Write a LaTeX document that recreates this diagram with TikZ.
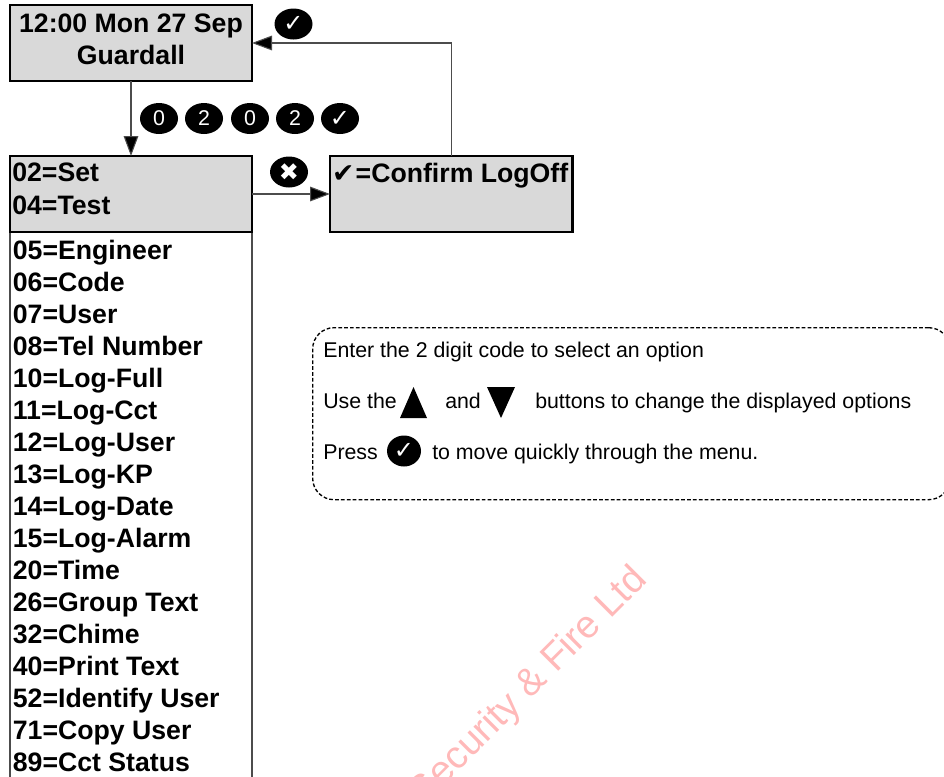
\documentclass[tikz,border=0pt]{standalone}
\usepackage{fontspec}
\setmainfont{Liberation Sans}
\newfontfamily\symfont{DejaVu Sans}
\usetikzlibrary{arrows.meta,calc,shapes.geometric}
\tikzset{
  screen/.style={draw=black,line width=2pt,fill=screengrey,inner sep=0pt,outer sep=0pt,rectangle},
  menulist/.style={draw=black!70,line width=0.8pt,fill=white,inner sep=0pt,outer sep=0pt,rectangle},
  flow/.style={draw=black!70,line width=0.8pt,-{Triangle[length=15pt,width=11pt,fill=black]}},
  keycap/.style={ellipse,fill=black,text=white,minimum width=28.5pt,minimum height=23.25pt,inner sep=0pt,font=\fontsize{16}{16}\selectfont},
  keysym/.style={keycap,font=\symfont\fontsize{18}{18}\selectfont},
  notebox/.style={draw=black,line width=1pt,dashed,dash pattern=on 2.8pt off 1.6pt,rounded corners=16pt,inner sep=0pt,rectangle},
  notetext/.style={anchor=base west,inner sep=0pt,font=\fontsize{16}{16}\selectfont},
  watermark/.style={text=wmred,font=\fontsize{29}{29}\selectfont,rotate=45,inner sep=0pt},
}
\definecolor{screengrey}{HTML}{D9D9D9}
\definecolor{wmred}{HTML}{FFB9B9}
\newcommand{\screentext}[4]{\parbox[c][#1][t]{#2}{\fontsize{20}{#3}\selectfont\bfseries #4}}
\begin{document}
\begin{tikzpicture}[x=0.75pt,y=-0.75pt]
\useasboundingbox (0,0) rectangle (944,776);
\clip (0,0) rectangle (944,776);

\node[watermark,anchor=base east] (wm) at (649,581) {Security \& Fire Ltd};

\node[menulist,anchor=north west,minimum width=181.5pt,minimum height=450pt] (list) at (10,232)
 {\parbox[c][450pt][t]{178pt}{\fontsize{20}{24}\selectfont\bfseries\vspace*{6pt}%
 \hspace*{0.4pt}05=Engineer\\ \hspace*{0.4pt}06=Code\\ \hspace*{0.4pt}07=User\\ \hspace*{0.4pt}08=Tel Number\\
 \hspace*{0.4pt}10=Log-Full\\ \hspace*{0.4pt}11=Log-Cct\\ \hspace*{0.4pt}12=Log-User\\ \hspace*{0.4pt}13=Log-KP\\
 \hspace*{0.4pt}14=Log-Date\\ \hspace*{0.4pt}15=Log-Alarm\\ \hspace*{0.4pt}20=Time\\ \hspace*{0.4pt}26=Group Text\\
 \hspace*{0.4pt}32=Chime\\ \hspace*{0.4pt}40=Print Text\\ \hspace*{0.4pt}52=Identify User\\ \hspace*{0.4pt}71=Copy User\\
 \hspace*{0.4pt}89=Cct Status}};

\node[screen,anchor=north west,minimum width=181.5pt,minimum height=57pt] (home) at (10,5)
 {\screentext{52pt}{178pt}{24pt}{\vspace*{4.5pt}\centering 12:00 Mon 27 Sep\\ Guardall}};
\node[screen,anchor=north west,minimum width=181.5pt,minimum height=57pt] (menu) at (10,156)
 {\screentext{52pt}{178pt}{24.75pt}{\vspace*{3pt}02=Set\\ 04=Test}};
\node[screen,anchor=north west,minimum width=182pt,minimum height=57pt] (logoff) at (330,156)
 {\screentext{52pt}{179pt}{24pt}{\vspace*{3pt}{\symfont ✔}\hspace{1pt}=Confirm LogOff}};

\draw[flow] (home.south) -- (menu.north);
\draw[flow] (menu.east) -- (logoff.west);
\draw[flow] (logoff.north) |- (home.east);

\node[keysym] (ktop) at (293.5,24) {✓};
\node[keycap] (k1) at (159,118.5) {0};
\node[keycap] (k2) at (204,118.5) {2};
\node[keycap] (k3) at (250,118.5) {0};
\node[keycap] (k4) at (295,118.5) {2};
\node[keysym] (k5) at (340,118.5) {✓};
\node[keysym] (kx) at (289,172) {✖};

\node[notebox,anchor=north west,minimum width=478pt,minimum height=129pt] (note) at (312,327) {};
\node[notetext] (n1) at (323,357) {Enter the 2 digit code to select an option};
\node[notetext] (n2) at (323,408) {Use the};
\node[notetext] (n3) at (445,408) {and};
\node[notetext] (n4) at (535,408) {buttons to change the displayed options};
\node[notetext] (n5) at (323,459) {Press};
\node[notetext] (n6) at (432,459) {to move quickly through the menu.};
\fill (400,418) -- (427,418) -- (413.5,387) -- cycle;
\fill (487,387) -- (515,387) -- (501,418) -- cycle;
\node[keysym,minimum width=25.5pt] (kn) at (404,451) {✓};
\end{tikzpicture}
\end{document}
